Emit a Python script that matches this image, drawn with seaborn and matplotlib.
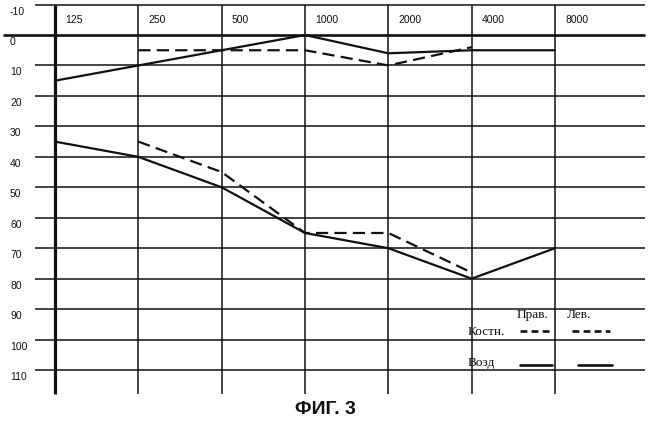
import numpy as np
import pandas as pd
import matplotlib
matplotlib.use("Agg")
import matplotlib.pyplot as plt
import seaborn as sns

# --- data ---
FREQS = ['125', '250', '500', '1000', '2000', '4000', '8000']
DB_TICKS = [-10, 0, 10, 20, 30, 40, 50, 60, 70, 80, 90, 100, 110]

RIGHT_AIR = [15, 10, 5, 0, 6, 5, 5]
RIGHT_BONE = [np.nan, 5, 5, 5, 10, 4, np.nan]
LEFT_AIR = [35, 40, 50, 65, 70, 80, 70]
LEFT_BONE = [np.nan, 35, 45, 65, 65, 78, np.nan]

LEGEND_COLS = ['Прав.', 'Лев.']
LEGEND_ROWS = ['Костн.', 'Возд']
TITLE = 'ФИГ. 3'

# --- style ---
sns.set_theme(style="white")
plt.rcParams['font.family'] = ['Liberation Sans', 'DejaVu Sans']

INK = '#111111'
BONE_DASH = (5.5, 2.8)

rows = []
for ear, air, bone in [('Прав.', RIGHT_AIR, RIGHT_BONE), ('Лев.', LEFT_AIR, LEFT_BONE)]:
    for i, (a, b) in enumerate(zip(air, bone)):
        rows.append({'pos': i, 'db': a, 'ear': ear, 'kind': 'Возд'})
        rows.append({'pos': i, 'db': b, 'ear': ear, 'kind': 'Костн.'})
df = pd.DataFrame(rows).dropna()

fig = plt.figure(figsize=(6.5, 4.28), dpi=100)
# axes covers the whole width, from the top down to the end of the grid
ax = fig.add_axes([0, 33 / 428, 1, 395 / 428])

# grid of the audiogram form
x_left, x_right = -0.24, 7.08
for v in DB_TICKS:
    if v == 0:
        ax.hlines(v, -0.63, x_right, color=INK, lw=1.9)
    else:
        ax.hlines(v, x_left, x_right, color=INK, lw=1.1)
for i, f in enumerate(FREQS):
    ax.vlines(i, -10, 118, color=INK, lw=2.3 if i == 0 else 1.1)
    ax.text(i + 0.12, -5, f, fontsize=7.5, va='center', ha='left', color=INK)

for v in DB_TICKS:
    ax.text(-0.54, v + 2.3, str(v), fontsize=7.5, va='center', ha='left', color=INK)

# thresholds
sns.lineplot(data=df, x='pos', y='db', units='ear', style='kind', estimator=None,
             dashes={'Возд': '', 'Костн.': BONE_DASH}, color=INK, lw=1.6,
             legend=False, ax=ax)
ax.set_xlim(-0.66, 7.14)
ax.set_ylim(118.2, -11.5)
ax.axis('off')

# hand-made key, in the table style of the form
serif = ['Liberation Serif', 'DejaVu Serif']
ax.text(5.54, 92, LEGEND_COLS[0], fontsize=9.5, family=serif, va='center', color=INK)
ax.text(6.14, 92, LEGEND_COLS[1], fontsize=9.5, family=serif, va='center', color=INK)
ax.text(4.95, 97.6, LEGEND_ROWS[0], fontsize=9.5, family=serif, va='center', color=INK)
ax.text(4.95, 107.6, LEGEND_ROWS[1], fontsize=9.5, family=serif, va='center', color=INK)
for x0, x1 in [(5.58, 5.96), (6.2, 6.66)]:
    ax.plot([x0, x1], [97.3, 97.3], color=INK, lw=1.9, dashes=(2.6, 1.6))
for x0, x1 in [(5.58, 5.96), (6.28, 6.68)]:
    ax.plot([x0, x1], [108.3, 108.3], color=INK, lw=1.9)

fig.text(0.5, 1 - 410 / 428, TITLE, fontsize=14, fontweight='bold',
         ha='center', va='center', color=INK)

plt.savefig('out.png', dpi=100)
